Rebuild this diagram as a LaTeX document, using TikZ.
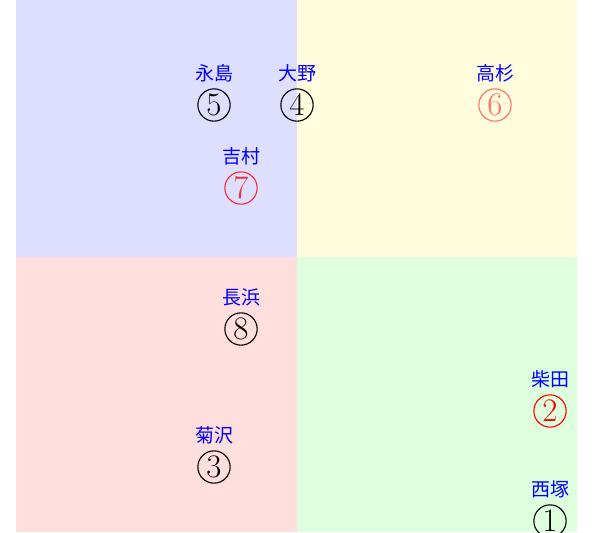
\documentclass[tikz,border=0pt]{standalone}
\usepackage{fontspec}
\newfontfamily\jp{Noto Sans CJK JP}
\usetikzlibrary{positioning}

\tikzset{
    num/.style={circle, draw, line width=0.6pt, inner sep=0pt, minimum size=17pt, font=\LARGE},
    who/.style={text=blue, font=\jp\normalsize, inner sep=1pt}
}

\begin{document}
\begin{tikzpicture}[x=0.5263pt, y=-0.5263pt]
    \useasboundingbox (0, 0) rectangle (595, 532);

    % quadrants
    \fill[blue!13]   (16, 0) rectangle (297, 257);
    \fill[yellow!13] (297, 0) rectangle (577, 257);
    \fill[red!13]    (16, 257) rectangle (297, 532);
    \fill[green!13]  (297, 257) rectangle (577, 532);

    % members
    \node[num] (nagashima) at (214, 105) {5};
    \node[num] (ohno) at (297, 105) {4};
    \node[num, red, opacity=0.55] (takasugi) at (495, 105) {6};
    \node[num, red, opacity=0.8] (yoshimura) at (241, 188) {7};
    \node[num] (nagahama) at (241, 329) {8};
    \node[num, red] (shibata) at (550, 411) {2};
    \node[num] (kikuzawa) at (214, 467) {3};
    \node[num] (nishizuka) at (550, 521) {1};

    \node[who, above=2pt of nagashima] (nagashima-name) {永島};
    \node[who, above=2pt of ohno] (ohno-name) {大野};
    \node[who, above=2pt of takasugi] (takasugi-name) {高杉};
    \node[who, above=2pt of yoshimura] (yoshimura-name) {吉村};
    \node[who, above=2pt of nagahama] (nagahama-name) {長浜};
    \node[who, above=2pt of shibata] (shibata-name) {柴田};
    \node[who, above=2pt of kikuzawa] (kikuzawa-name) {菊沢};
    \node[who, above=2pt of nishizuka] (nishizuka-name) {西塚};

\end{tikzpicture}
\end{document}
